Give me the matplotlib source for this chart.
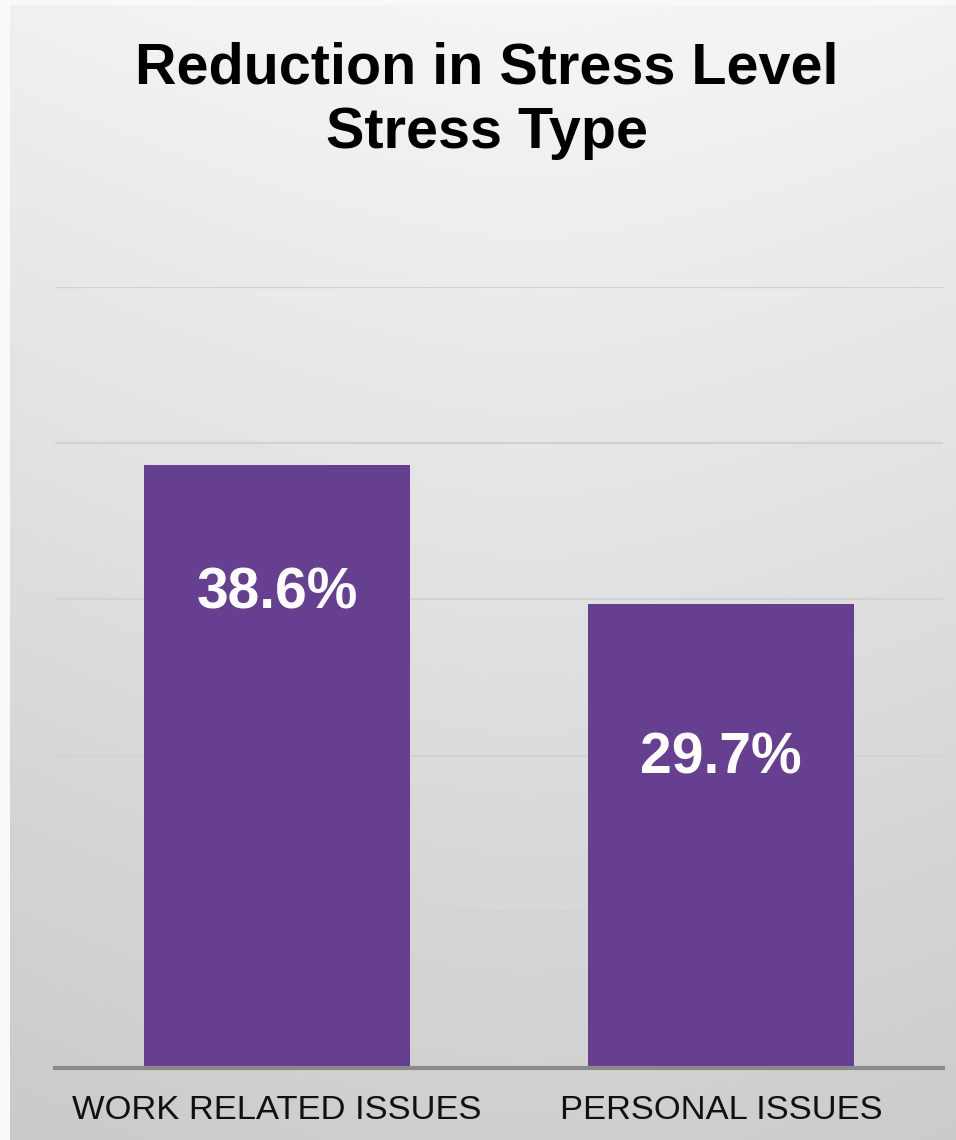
import numpy as np
import matplotlib.pyplot as plt
from matplotlib.colors import LinearSegmentedColormap

categories = ['WORK RELATED ISSUES', 'PERSONAL ISSUES']
values = [38.6, 29.7]
value_labels = ['38.6%', '29.7%']
title_lines = ['Reduction in Stress Level', 'Stress Type']

plt.rcParams['font.family'] = ['Liberation Sans', 'DejaVu Sans']

W, H = 956, 1140
fig = plt.figure(figsize=(W / 100, H / 100), dpi=100)
fig.patch.set_facecolor('#f8f9fb')

# background panel with soft gradient
bg = fig.add_axes([10 / W, 0, 1 - 10 / W, 1 - 5 / H])
yy, xx = np.mgrid[0:1:200j, 0:1:200j]
shade = 0.96 - 0.15 * yy - 0.05 * np.abs(xx - 0.55) ** 1.5
cmap = LinearSegmentedColormap.from_list('g', ['#000000', '#ffffff'])
bg.imshow(shade, cmap=cmap, vmin=0, vmax=1, aspect='auto',
          extent=[0, 1, 1, 0], interpolation='bicubic')
bg.set_axis_off()

# chart area
left, right = 55 / W, 943 / W
bottom, top = (H - 1068) / H, (H - 287) / H
ax = fig.add_axes([left, bottom, right - left, top - bottom])
ax.patch.set_alpha(0)
x = np.arange(len(categories))
ax.bar(x, values, width=0.6, color='#663f91', zorder=3)
ax.set_xlim(-0.5, len(categories) - 0.5)
ax.set_ylim(0, 50)
ax.set_yticks([10, 20, 30, 40, 50])
ax.yaxis.grid(True, color='#d2d2d2', linewidth=1.6, zorder=0)
ax.tick_params(axis='y', left=False, labelleft=False)
ax.tick_params(axis='x', bottom=False, pad=16)
ax.set_xticks(x)
ax.set_xticklabels(categories, fontsize=24.8, color='#111111')
for s in ['left', 'right', 'top']:
    ax.spines[s].set_visible(False)
ax.spines['bottom'].set_color('#8a8a8a')
ax.spines['bottom'].set_linewidth(3)
ax.spines['bottom'].set_zorder(4)

offsets = [8.2, 9.9]
for xi, v, lab, off in zip(x, values, value_labels, offsets):
    ax.text(xi, v - off, lab, ha='center', va='center', color='white',
            fontsize=41, fontweight='bold', zorder=5)

fig.text(487 / W, 1 - 69 / H, title_lines[0], ha='center', va='center',
         fontsize=41.4, fontweight='bold', color='black')
fig.text(487 / W, 1 - 133 / H, title_lines[1], ha='center', va='center',
         fontsize=41.4, fontweight='bold', color='black')

fig.savefig('out.png', dpi=100, facecolor=fig.get_facecolor())
